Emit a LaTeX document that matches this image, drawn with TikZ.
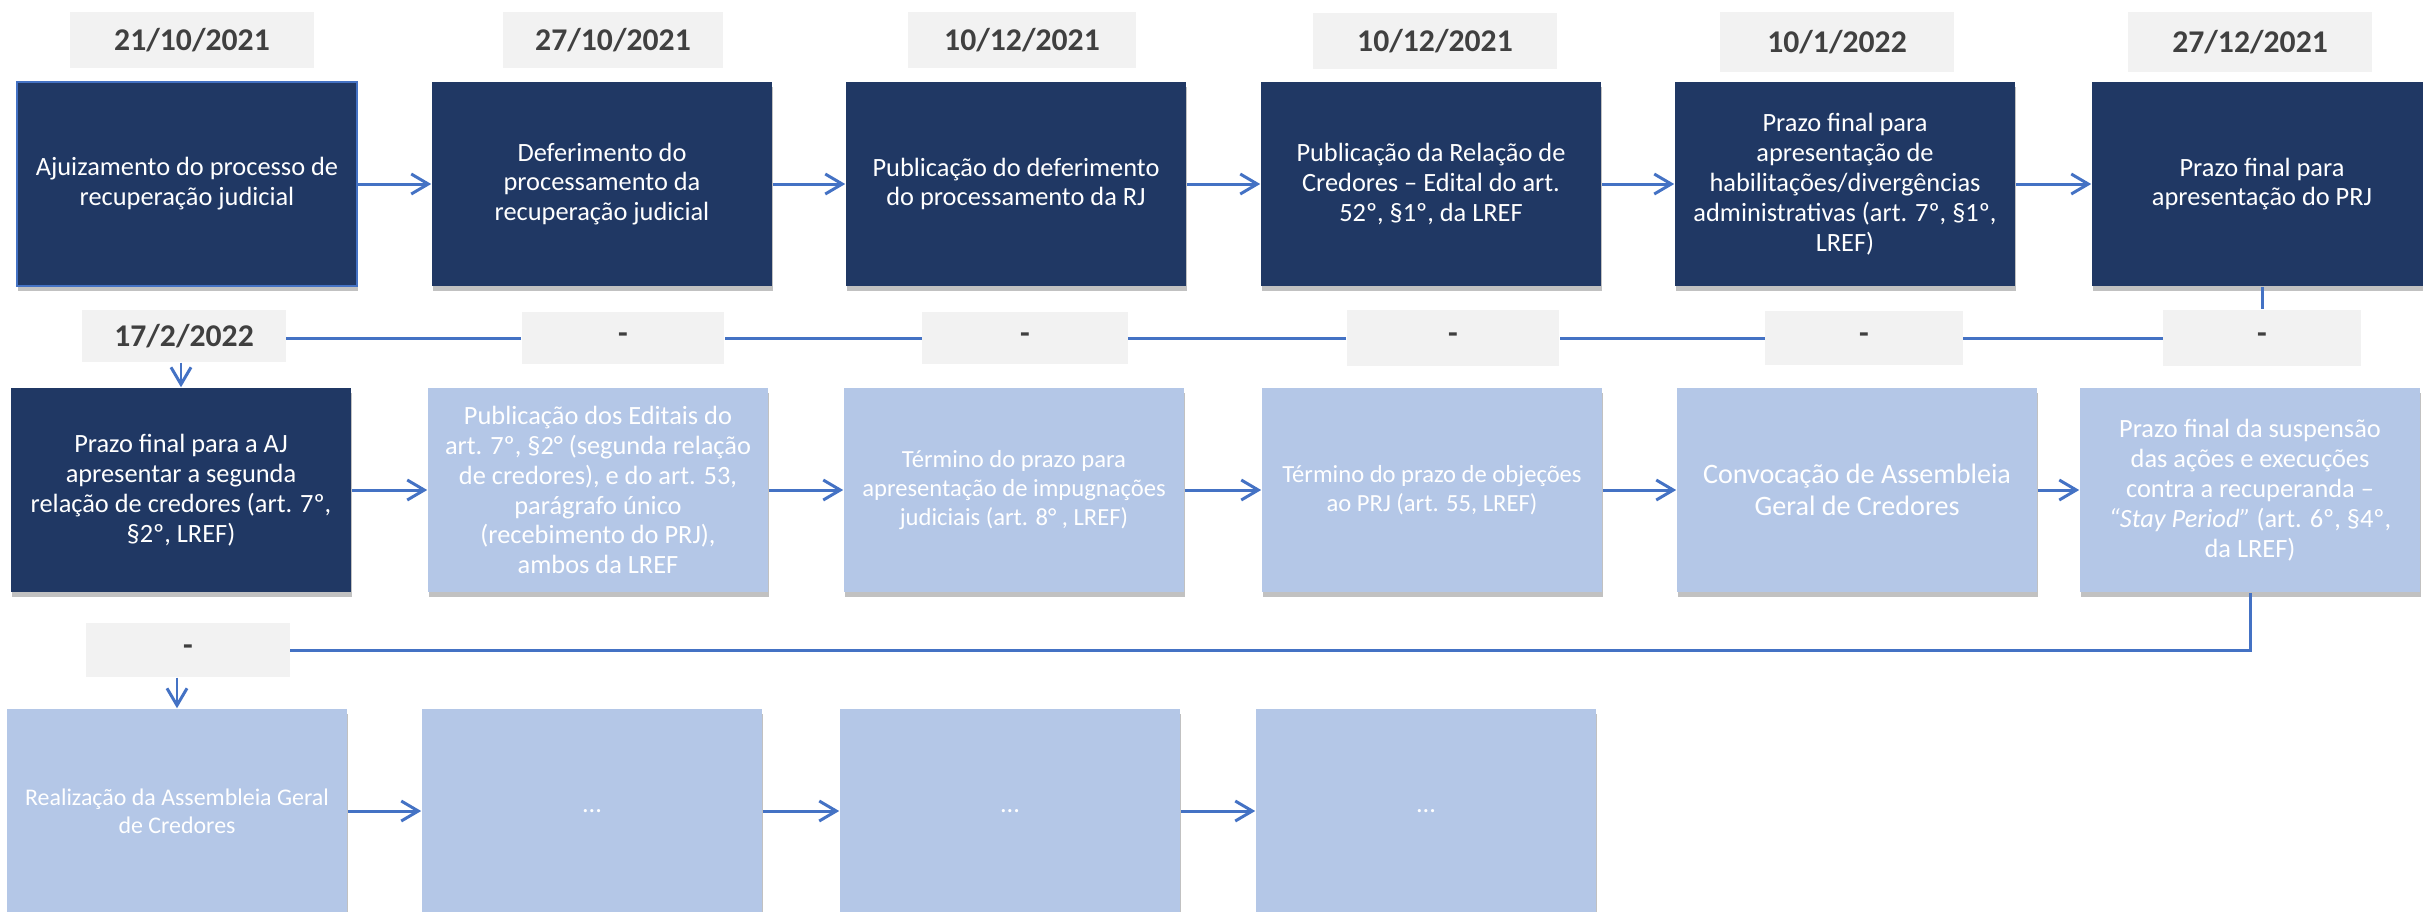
\documentclass[tikz,border=0pt]{standalone}
\usepackage{fontspec}
\setmainfont{Carlito}
\usetikzlibrary{arrows.meta,shadows}

\definecolor{navy}{HTML}{203864}
\definecolor{pale}{HTML}{B4C7E7}
\definecolor{tagfill}{HTML}{F2F2F2}
\definecolor{linkblue}{HTML}{4472C4}
\definecolor{ink}{HTML}{404040}

\tikzset{
	stagebox/.style={minimum width=3.4cm, minimum height=2.04cm, inner sep=0pt, align=center, text=white,
		font=\fontsize{7.5}{8.5}\selectfont,
		drop shadow={shadow xshift=0.01cm, shadow yshift=-0.05cm, opacity=0.35, fill=black!70}},
	darkbox/.style={stagebox, fill=navy},
	palebox/.style={stagebox, fill=pale},
	datetag/.style={fill=tagfill, minimum width=2.3cm, minimum height=0.55cm, inner sep=0pt,
		text=ink, font=\fontsize{9}{10}\selectfont\bfseries},
	flow/.style={draw=linkblue, line width=0.85pt},
	flowarrow/.style={flow, -{Straight Barb[length=0.17cm, width=0.2cm, line width=0.85pt]}}
}

\begin{document}
\begin{tikzpicture}[x=0.01cm, y=-0.01cm]
	%%%%% START %%%%%
	\useasboundingbox (0,0) rectangle (2423,911);
	
	% first row
	\node[datetag, minimum width=2.44cm] (d1) at (192, 40) {21/10/2021};
	\node[datetag, minimum width=2.2cm] (d2) at (613, 40) {27/10/2021};
	\node[datetag, minimum width=2.28cm] (d3) at (1022, 40) {10/12/2021};
	\node[datetag, minimum width=2.44cm] (d4) at (1435, 41) {10/12/2021};
	\node[datetag, minimum width=2.33cm, minimum height=0.6cm] (d5) at (1837, 42) {10/1/2022};
	\node[datetag, minimum width=2.43cm, minimum height=0.6cm] (d6) at (2250, 42) {27/12/2021};
	
	\node[darkbox, draw=linkblue, line width=0.6pt] (b1) at (187, 184) {Ajuizamento do processo de\\recuperação judicial};
	\node[darkbox] (b2) at (602, 184) {Deferimento do\\processamento da\\recuperação judicial};
	\node[darkbox] (b3) at (1016, 184) {Publicação do deferimento\\do processamento da RJ};
	\node[darkbox] (b4) at (1431, 184) {Publicação da Relação de\\Credores – Edital do art.\\52º, §1º, da LREF};
	\node[darkbox] (b5) at (1845, 184) {Prazo final para\\apresentação de\\habilitações/divergências\\administrativas (art. 7º, §1º,\\LREF)};
	\node[darkbox] (b6) at (2262, 184) {Prazo final para\\apresentação do PRJ};
	
	\draw[flowarrow] (b1) -- (b2);
	\draw[flowarrow] (b2) -- (b3);
	\draw[flowarrow] (b3) -- (b4);
	\draw[flowarrow] (b4) -- (b5);
	\draw[flowarrow] (b5) -- (b6);
	
	% second row
	\node[datetag, minimum width=2.03cm, minimum height=0.52cm] (d7) at (184, 336) {17/2/2022};
	\node[datetag, minimum width=2.02cm, minimum height=0.52cm] (t1) at (623, 338) {-};
	\node[datetag, minimum width=2.05cm, minimum height=0.52cm] (t2) at (1025, 338) {-};
	\node[datetag, minimum width=2.12cm, minimum height=0.56cm] (t3) at (1453, 338) {-};
	\node[datetag, minimum width=1.97cm, minimum height=0.54cm] (t4) at (1864, 338) {-};
	\node[datetag, minimum width=1.97cm, minimum height=0.56cm] (t5) at (2262, 338) {-};
	
	\draw[flow] (b6.south) -- (t5.north);
	\draw[flow] (t5.west) -- (t4.east);
	\draw[flow] (t4.west) -- (t3.east);
	\draw[flow] (t3.west) -- (t2.east);
	\draw[flow] (t2.west) -- (t1.east);
	\draw[flow] (t1.west) -- (t1.west -| d7.east);
	
	\node[darkbox] (b7) at (181, 490) {Prazo final para a AJ\\apresentar a segunda\\relação de credores (art. 7º,\\§2º, LREF)};
	\node[palebox] (b8) at (598, 490) {Publicação dos Editais do\\art. 7º, §2° (segunda relação\\de credores), e do art. 53,\\parágrafo único\\(recebimento do PRJ),\\ambos da LREF};
	\node[palebox, font=\fontsize{7}{8.2}\selectfont] (b9) at (1014, 490) {Término do prazo para\\apresentação de impugnações\\judiciais (art. 8° , LREF)};
	\node[palebox, font=\fontsize{7}{8.2}\selectfont] (b10) at (1432, 490) {Término do prazo de objeções\\ao PRJ (art. 55, LREF)};
	\node[palebox, minimum width=3.6cm, font=\fontsize{8}{9}\selectfont] (b11) at (1857, 490) {Convocação de Assembleia\\Geral de Credores};
	\node[palebox] (b12) at (2250, 490) {Prazo final da suspensão\\das ações e execuções\\contra a recuperanda –\\\textit{“Stay Period”} (art. 6º, §4º,\\da LREF)};
	
	\draw[flowarrow] (d7.south -| b7.north) -- (b7.north);
	\draw[flowarrow] (b7) -- (b8);
	\draw[flowarrow] (b8) -- (b9);
	\draw[flowarrow] (b9) -- (b10);
	\draw[flowarrow] (b10) -- (b11);
	\draw[flowarrow] (b11) -- (b12);
	
	% third row
	\node[datetag, minimum width=2.03cm, minimum height=0.54cm] (t6) at (188, 650) {-};
	\draw[flow] (b12.south) |- (t6.east);
	
	\node[palebox, font=\fontsize{6.8}{8}\selectfont] (b13) at (177, 811) {Realização da Assembleia Geral\\de Credores};
	\node[palebox] (b14) at (592, 811) {...};
	\node[palebox] (b15) at (1010, 811) {...};
	\node[palebox] (b16) at (1426, 811) {...};
	
	\draw[flowarrow] (t6.south -| b13.north) -- (b13.north);
	\draw[flowarrow] (b13) -- (b14);
	\draw[flowarrow] (b14) -- (b15);
	\draw[flowarrow] (b15) -- (b16);
	
	%%%%% END %%%%%
\end{tikzpicture}
\end{document}
